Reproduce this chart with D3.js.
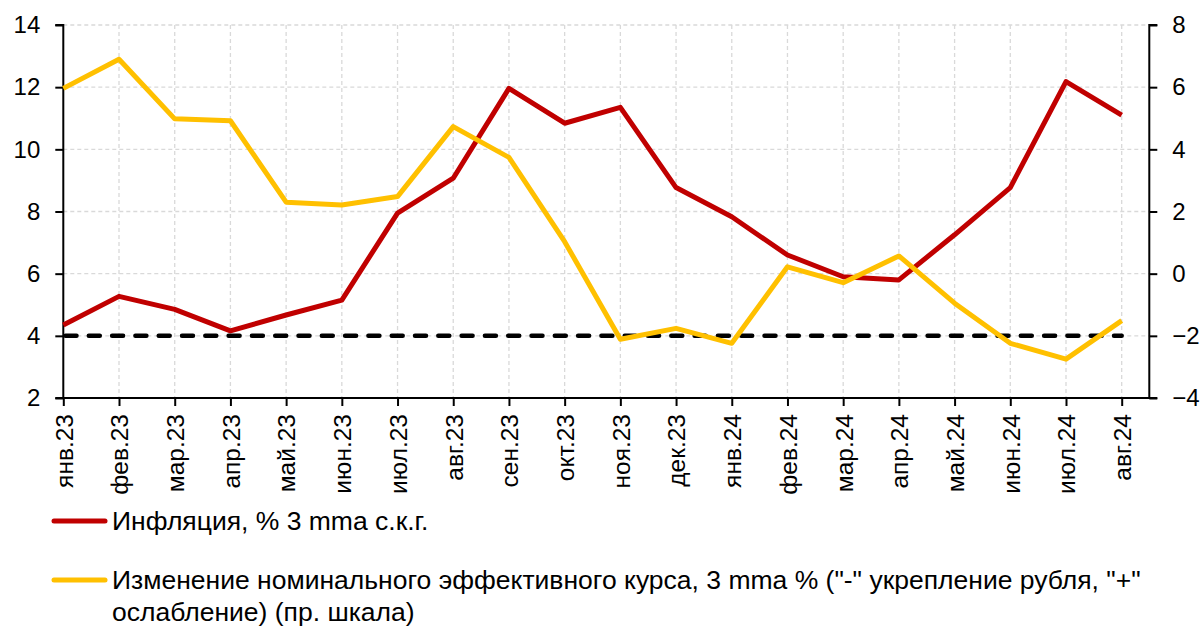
<!DOCTYPE html>
<html>
<head>
<meta charset="utf-8">
<script src="https://cdn.jsdelivr.net/npm/d3@7"></script>
<style>
body { margin: 0; background: #fff; }
text { font-family: "Liberation Sans", Arial, sans-serif; fill: #000; }
</style>
</head>
<body>
<svg id="chart"></svg>
<script>
var width = 1200,
height = 628;

var months = ["янв.23", "фев.23", "мар.23", "апр.23", "май.23", "июн.23", "июл.23", "авг.23", "сен.23", "окт.23",
    "ноя.23", "дек.23", "янв.24", "фев.24", "мар.24", "апр.24", "май.24", "июн.24", "июл.24", "авг.24"];

// инфляция, левая шкала
var inflation = [4.35, 5.27, 4.85, 4.16, 4.67, 5.15, 7.95, 9.07, 11.96, 10.84,
    11.35, 8.77, 7.83, 6.6, 5.9, 5.8, 7.25, 8.77, 12.18, 11.1];

// номинальный эффективный курс, правая шкала
var neer = [5.96, 6.9, 4.98, 4.92, 2.3, 2.21, 2.48, 4.73, 3.74, 1.03,
    -2.11, -1.76, -2.24, 0.22, -0.29, 0.57, -0.95, -2.24, -2.75, -1.51];

var target = months.map(function () { return 4; });

var leftTicks = [2, 4, 6, 8, 10, 12, 14];
var rightTicks = [-4, -2, 0, 2, 4, 6, 8];

var legendLabels = [
    "Инфляция, % 3 mma с.к.г.",
    "Изменение номинального эффективного курса, 3 mma % (\"-\" укрепление рубля, \"+\"|ослабление) (пр. шкала)"
];

var plotLeft = 63.3, plotRight = 1149.3, plotTop = 25, plotBottom = 398;

var svg = d3.select("#chart")
    .attr("width", width)
    .attr("height", height);

var x = d3.scalePoint()
    .domain(months)
    .range([plotLeft, 1121.7]);

var yLeft = d3.scaleLinear().domain([2, 14]).range([plotBottom, plotTop]);
var yRight = d3.scaleLinear().domain([-4, 8]).range([plotBottom, plotTop]);

// сетка
svg.append("g")
    .selectAll("line")
    .data(leftTicks.slice(1))
    .enter().append("line")
    .attr("x1", plotLeft)
    .attr("x2", plotRight)
    .attr("y1", function (d) { return yLeft(d); })
    .attr("y2", function (d) { return yLeft(d); })
    .attr("stroke", "#d9d9d9")
    .attr("stroke-width", 1.3)
    .attr("stroke-dasharray", "4,3");

svg.append("g")
    .selectAll("line")
    .data(months.slice(1))
    .enter().append("line")
    .attr("x1", function (d) { return x(d); })
    .attr("x2", function (d) { return x(d); })
    .attr("y1", plotTop)
    .attr("y2", plotBottom)
    .attr("stroke", "#d9d9d9")
    .attr("stroke-width", 1.3)
    .attr("stroke-dasharray", "4,3");

// оси
var axisLeft = svg.append("g")
    .attr("transform", "translate(" + plotLeft + ",0)")
    .call(d3.axisLeft(yLeft).tickValues(leftTicks).tickSize(8).tickPadding(15));

var axisRight = svg.append("g")
    .attr("transform", "translate(" + plotRight + ",0)")
    .call(d3.axisRight(yRight).tickValues(rightTicks).tickSize(8).tickPadding(15));

var axisBottom = svg.append("g")
    .attr("transform", "translate(0," + plotBottom + ")")
    .call(d3.axisBottom(x).tickSize(8).tickSizeOuter(0));

axisBottom.select(".domain").attr("d", "M" + plotLeft + ",0H" + plotRight);

[axisLeft, axisRight, axisBottom].forEach(function (g) {
    g.selectAll(".domain").attr("stroke", "#000").attr("stroke-width", 2);
    g.selectAll(".tick line").attr("stroke", "#000").attr("stroke-width", 2);
    g.selectAll("text").style("font-size", "24px").attr("fill", "#000");
});

axisBottom.selectAll("text")
    .style("font-size", "24.5px")
    .attr("transform", "rotate(-90)")
    .attr("text-anchor", "end")
    .attr("x", -16)
    .attr("y", 0)
    .attr("dy", "0.36em");

axisLeft.select(".domain").attr("d", "M-8," + plotTop + "H0V" + plotBottom + "H-8");
axisRight.select(".domain").attr("d", "M8," + plotTop + "H0V" + plotBottom + "H8");

// линии
var lineLeft = d3.line()
    .x(function (d, i) { return x(months[i]); })
    .y(function (d) { return yLeft(d); });

var lineRight = d3.line()
    .x(function (d, i) { return x(months[i]); })
    .y(function (d) { return yRight(d); });

svg.append("path")
    .datum(target)
    .attr("d", lineLeft)
    .attr("fill", "none")
    .attr("stroke", "#000")
    .attr("stroke-width", 4.5)
    .attr("stroke-linecap", "round")
    .attr("stroke-dasharray", "11,12.3")
    .attr("stroke-dashoffset", -2.2);

svg.append("path")
    .datum(inflation)
    .attr("d", lineLeft)
    .attr("fill", "none")
    .attr("stroke", "#C00000")
    .attr("stroke-width", 5)
    .attr("stroke-linejoin", "round");

svg.append("path")
    .datum(neer)
    .attr("d", lineRight)
    .attr("fill", "none")
    .attr("stroke", "#FFC000")
    .attr("stroke-width", 5)
    .attr("stroke-linejoin", "round");

// легенда
var legendColors = ["#C00000", "#FFC000"];
var legendY = [521, 580];

var legend = svg.append("g")
    .selectAll("g")
    .data(legendLabels)
    .enter().append("g")
    .attr("transform", function (d, i) { return "translate(0," + legendY[i] + ")"; });

legend.append("line")
    .attr("x1", 54)
    .attr("x2", 105)
    .attr("stroke", function (d, i) { return legendColors[i]; })
    .attr("stroke-width", 5)
    .attr("stroke-linecap", "round");

legend.append("text")
    .attr("x", 112)
    .style("font-size", "26.5px")
    .selectAll("tspan")
    .data(function (d) { return d.split("|"); })
    .enter().append("tspan")
    .attr("x", 112)
    .attr("dy", function (d, i) { return i === 0 ? "0.35em" : "1.2em"; })
    .text(function (d) { return d; });
</script>
</body>
</html>
